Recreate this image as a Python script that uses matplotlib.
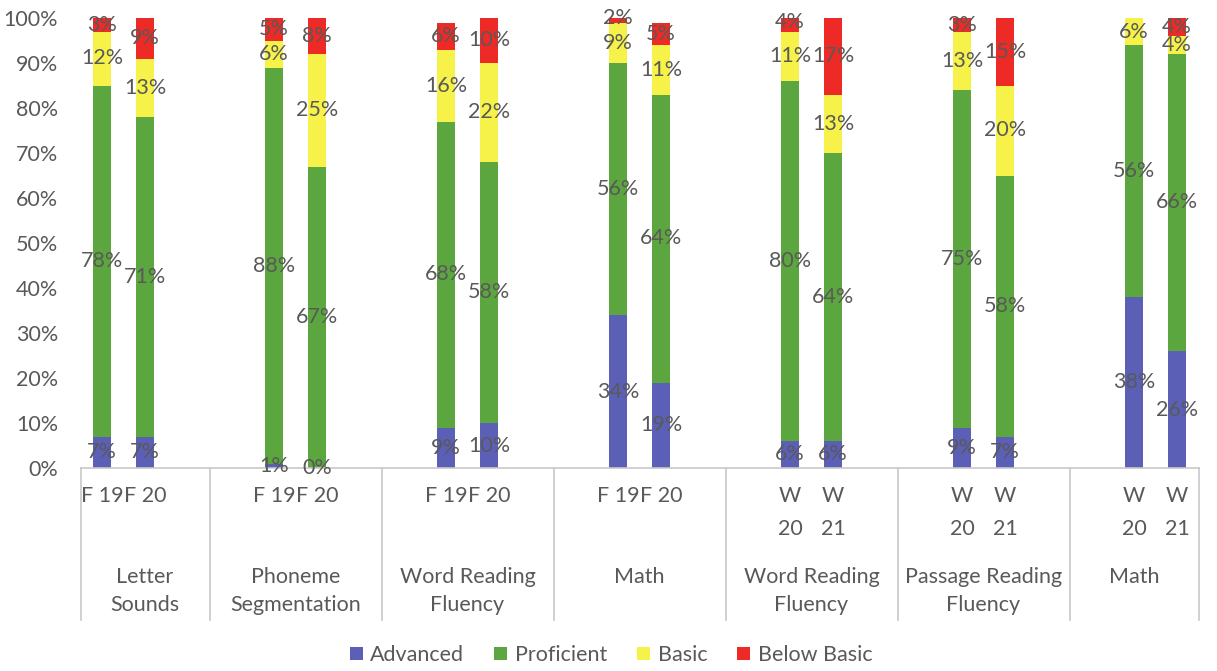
import numpy as np
import matplotlib
matplotlib.use("Agg")
import matplotlib.pyplot as plt
from matplotlib.transforms import blended_transform_factory
from matplotlib.patches import Patch

plt.rcParams['font.family'] = ['Lato', 'DejaVu Sans']

# ---- data -------------------------------------------------------------
groups = ["Letter\nSounds", "Phoneme\nSegmentation", "Word Reading\nFluency", "Math",
          "Word Reading\nFluency", "Passage Reading\nFluency", "Math"]
periods = [("F 19", "F 20")] * 4 + [("W\n20", "W\n21")] * 3

advanced   = [7, 7, 1, 0, 9, 10, 34, 19, 6, 6, 9, 7, 38, 26]
proficient = [78, 71, 88, 67, 68, 58, 56, 64, 80, 64, 75, 58, 56, 66]
basic      = [12, 13, 6, 25, 16, 22, 9, 11, 11, 13, 13, 20, 6, 4]
below      = [3, 9, 5, 8, 6, 10, 2, 5, 4, 17, 3, 15, None, 4]

series_names = ["Advanced", "Proficient", "Basic", "Below Basic"]
colors = ["#5b5fb6", "#5ca63f", "#f6f24a", "#ee2a26"]

# ---- figure -----------------------------------------------------------
W, H = 1217, 671
fig = plt.figure(figsize=(W / 100, H / 100), dpi=100)

def fy(py):
    return 1 - py / H

FS = 15.5
left_px, right_px, top_px, bottom_px = 80.5, 1198.5, 18, 468
ax = fig.add_axes([left_px / W, fy(bottom_px), (right_px - left_px) / W,
                   (bottom_px - top_px) / H])

text_gray = "#595959"
line_gray = "#c8c8c8"

# bar slots: each topic occupies 4 category slots (first/last are trimmed)
n_groups = len(groups)
x = np.array([4 * g + j for g in range(n_groups) for j in range(2)], dtype=float)

stack = [np.array([np.nan if v is None else v for v in s], dtype=float)
         for s in (advanced, proficient, basic, below)]

bottom = np.zeros(len(x))
for vals, color, name in zip(stack, colors, series_names):
    ax.bar(x, np.nan_to_num(vals), width=0.4, bottom=bottom, color=color,
           label=name, zorder=2)
    for xi, b, v in zip(x, bottom, vals):
        if np.isnan(v):
            continue
        ax.text(xi, b + v / 2, f"{int(v)}%", ha="center", va="center",
                fontsize=FS, color=text_gray, zorder=3)
    bottom = bottom + np.nan_to_num(vals)

ax.set_xlim(-0.5, 25.5)
ax.set_ylim(0, 100)
ax.set_yticks(range(0, 101, 10))
ax.set_yticklabels([f"{v}%" for v in range(0, 101, 10)], fontsize=FS, color=text_gray)
ax.tick_params(axis="y", length=0, pad=16)
ax.set_xticks([])
for side in ("left", "right", "top"):
    ax.spines[side].set_visible(False)
ax.spines["bottom"].set_color(line_gray)
ax.spines["bottom"].set_linewidth(1.2)

# ---- multi-level category axis ------------------------------------------
tr = blended_transform_factory(ax.transData, fig.transFigure)

# group separators
sep_x = [-0.5] + [4 * g - 1.5 for g in range(1, n_groups)] + [25.5]
for sx in sep_x:
    ax.plot([sx, sx], [fy(bottom_px), fy(620)], transform=tr, color=line_gray,
            lw=1.2, clip_on=False)

# period labels
for xi, lab in zip(x, [p for pair in periods for p in pair]):
    if "\n" in lab:
        top, bot = lab.split("\n")
        ax.text(xi, fy(496), top, transform=tr, ha="center", va="center",
                fontsize=FS, color=text_gray)
        ax.text(xi, fy(529), bot, transform=tr, ha="center", va="center",
                fontsize=FS, color=text_gray)
    else:
        ax.text(xi, fy(496), lab, transform=tr, ha="center", va="center",
                fontsize=FS, color=text_gray)

# topic labels
for g, name in enumerate(groups):
    lo = sep_x[g]
    hi = sep_x[g + 1]
    cx = (lo + hi) / 2
    lines = name.split("\n")
    for k, ln in enumerate(lines):
        ax.text(cx, fy(577 + 28 * k), ln, transform=tr, ha="center", va="center",
                fontsize=FS, color=text_gray)

# ---- legend -------------------------------------------------------------
handles = [Patch(facecolor=c, edgecolor="none", label=n)
           for c, n in zip(colors, series_names)]
fig.legend(handles=handles, loc="center", bbox_to_anchor=(611 / W, fy(655)),
           ncol=4, frameon=False, fontsize=15.5, handlelength=0.6,
           handleheight=0.6, handletextpad=0.35, columnspacing=1.4,
           labelcolor=text_gray)

fig.savefig("out.png", dpi=100, facecolor="white")
